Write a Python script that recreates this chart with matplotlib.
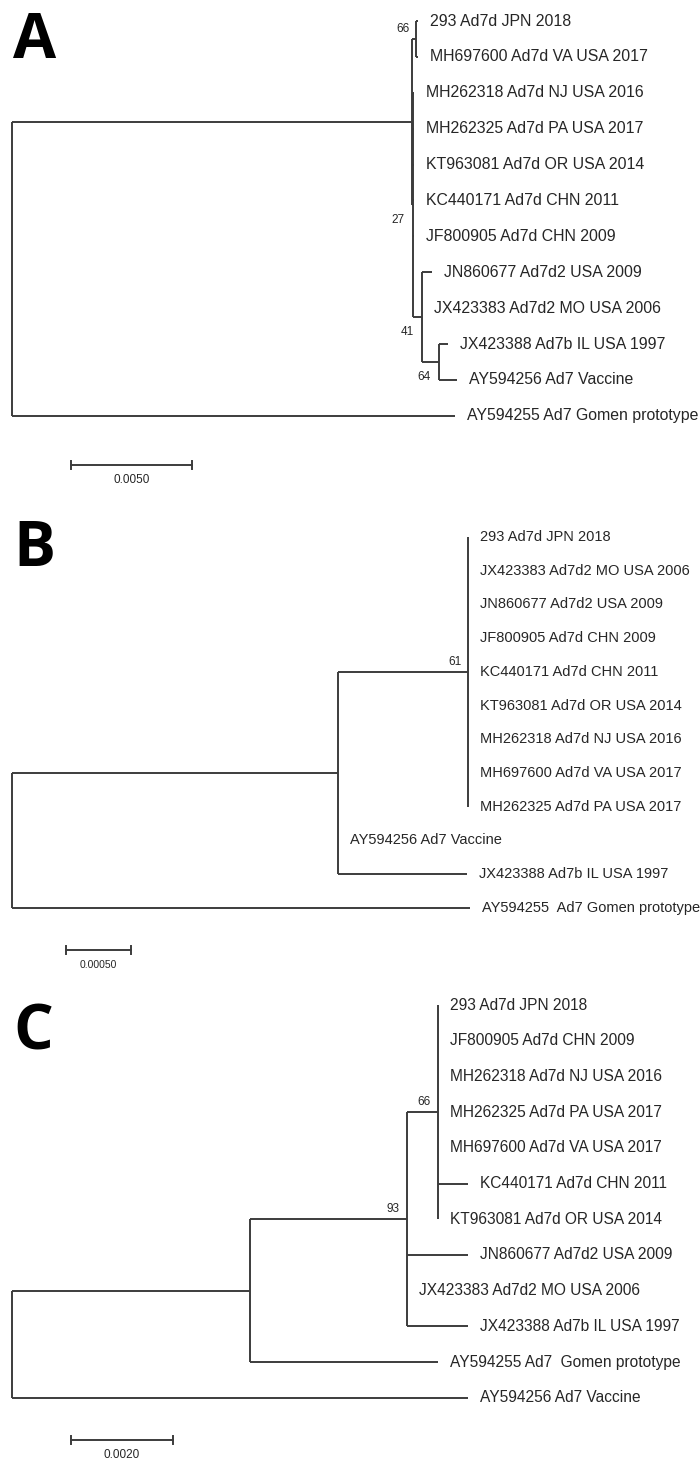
import matplotlib
matplotlib.use("Agg")
import matplotlib.pyplot as plt

# --- data: trees as nested tuples -------------------------------------------
# leaf  = (label, branch_length)
# inner = ([children], branch_length, bootstrap)

tree_a = ([
    ([
        ([("293 Ad7d JPN 2018", 0.00008),
          ("MH697600 Ad7d VA USA 2017", 0.00008)], 0.00018, "66"),
        ([("MH262318 Ad7d NJ USA 2016", 0.00006),
          ("MH262325 Ad7d PA USA 2017", 0.00006),
          ("KT963081 Ad7d OR USA 2014", 0.00006),
          ("KC440171 Ad7d CHN 2011", 0.00006),
          ("JF800905 Ad7d CHN 2009", 0.00006),
          ([("JN860677 Ad7d2 USA 2009", 0.00041),
            ("JX423383 Ad7d2 MO USA 2006", 0.0),
            ([("JX423388 Ad7b IL USA 1997", 0.00037),
              ("AY594256 Ad7 Vaccine", 0.00074)], 0.0007, "64")], 0.00037, "41")],
         0.00005, "27"),
    ], 0.01652, None),
    ("AY594255 Ad7 Gomen prototype", 0.0183),
], 0.0, None)

tree_b = ([
    ([
        ([("293 Ad7d JPN 2018", 0.0),
          ("JX423383 Ad7d2 MO USA 2006", 0.0),
          ("JN860677 Ad7d2 USA 2009", 0.0),
          ("JF800905 Ad7d CHN 2009", 0.0),
          ("KC440171 Ad7d CHN 2011", 0.0),
          ("KT963081 Ad7d OR USA 2014", 0.0),
          ("MH262318 Ad7d NJ USA 2016", 0.0),
          ("MH697600 Ad7d VA USA 2017", 0.0),
          ("MH262325 Ad7d PA USA 2017", 0.0)], 0.00100, "61"),
        ("AY594256 Ad7 Vaccine", 0.0),
        ("JX423388 Ad7b IL USA 1997", 0.00099),
    ], 0.00251, None),
    ("AY594255  Ad7 Gomen prototype", 0.00352),
], 0.0, None)

tree_c = ([
    ([
        ([
            ([("293 Ad7d JPN 2018", 0.0),
              ("JF800905 Ad7d CHN 2009", 0.0),
              ("MH262318 Ad7d NJ USA 2016", 0.0),
              ("MH262325 Ad7d PA USA 2017", 0.0),
              ("MH697600 Ad7d VA USA 2017", 0.0),
              ("KC440171 Ad7d CHN 2011", 0.00059),
              ("KT963081 Ad7d OR USA 2014", 0.0)], 0.00061, "66"),
            ("JN860677 Ad7d2 USA 2009", 0.0012),
            ("JX423383 Ad7d2 MO USA 2006", 0.0),
            ("JX423388 Ad7b IL USA 1997", 0.0012),
        ], 0.00307, "93"),
        ("AY594255 Ad7  Gomen prototype", 0.00369),
    ], 0.00467, None),
    ("AY594256 Ad7 Vaccine", 0.00894),
], 0.0, None)

trees = [tree_a, tree_b, tree_c]
letters = ["A", "B", "C"]
scale_lengths = [0.005, 0.0005, 0.002]
scale_labels = ["0.0050", "0.00050", "0.0020"]
below_supports = [{"27", "41", "64"}, set(), set()]

# --- layout (pixels of the 700x1467 figure) --------------------------------
W, H = 700, 1467
panels = [
    dict(top=0, bot=500, tip0=21, dy=35.9, ppu=24200, bar_x=71, bar_y=465, let_y=58, fs=11.4),
    dict(top=500, bot=985, tip0=537, dy=33.7, ppu=130000, bar_x=66, bar_y=950, let_y=566, fs=10.5),
    dict(top=985, bot=1467, tip0=1005, dy=35.7, ppu=51000, bar_x=71, bar_y=1440, let_y=1050, fs=11.2),
]
root_px = 12
line_col = "#3c3c3c"
text_col = "#262626"
lw = 1.4
gap_pt = 12 * 72 / 100

plt.rcParams['font.family'] = ['Liberation Sans', 'DejaVu Sans']

fig = plt.figure(figsize=(W / 100, H / 100), dpi=100)


def draw(ax, node, x0, counter, fs, below):
    if isinstance(node[0], str):
        label, bl = node
        x = x0 + bl
        y = counter[0]
        counter[0] += 1
        ax.plot([x0, x], [y, y], color=line_col, lw=lw, solid_capstyle="butt")
        ax.annotate(label, (x, y), xytext=(gap_pt, 0), textcoords="offset points",
                    ha="left", va="center", fontsize=fs, color=text_col)
        return y
    children, bl, support = node
    x = x0 + bl
    ys = [draw(ax, c, x, counter, fs, below) for c in children]
    y = (ys[0] + ys[-1]) / 2
    ax.plot([x, x], [ys[0], ys[-1]], color=line_col, lw=lw, solid_capstyle="butt")
    ax.plot([x0, x], [y, y], color=line_col, lw=lw, solid_capstyle="butt")
    if support:
        if support in below:
            off = (-6, -11)
        else:
            off = (-5, 7)
        ax.annotate(support, (x, y), xytext=off, textcoords="offset points",
                    ha="right", va="center", fontsize=8.5, color=text_col)
    return y


for i, p in enumerate(panels):
    ax = fig.add_axes([0, 1 - p["bot"] / H, 1, (p["bot"] - p["top"]) / H])
    ax.set_xlim(-root_px / p["ppu"], (W - root_px) / p["ppu"])
    ax.set_ylim((p["bot"] - p["tip0"]) / p["dy"], (p["top"] - p["tip0"]) / p["dy"])
    ax.axis("off")
    draw(ax, trees[i], 0.0, [0], p["fs"], below_supports[i])

    # scale bar
    bx = (p["bar_x"] - root_px) / p["ppu"]
    by = (p["bar_y"] - p["tip0"]) / p["dy"]
    cap = 4 / p["dy"]
    ax.plot([bx, bx + scale_lengths[i]], [by, by], color=line_col, lw=lw)
    ax.plot([bx, bx], [by - cap, by + cap], color=line_col, lw=lw)
    ax.plot([bx + scale_lengths[i]] * 2, [by - cap, by + cap], color=line_col, lw=lw)
    ax.annotate(scale_labels[i], (bx + scale_lengths[i] / 2, by), xytext=(0, -11),
                textcoords="offset points", ha="center", va="center",
                fontsize=8.5 if i != 1 else 7.5, color=text_col)

    fig.text(13 / W, 1 - p["let_y"] / H, letters[i], fontsize=45, fontweight="bold",
             family=["Open Sans", "DejaVu Sans"], ha="left", va="baseline", color="black")

fig.savefig("out.png", dpi=100, facecolor="white")
